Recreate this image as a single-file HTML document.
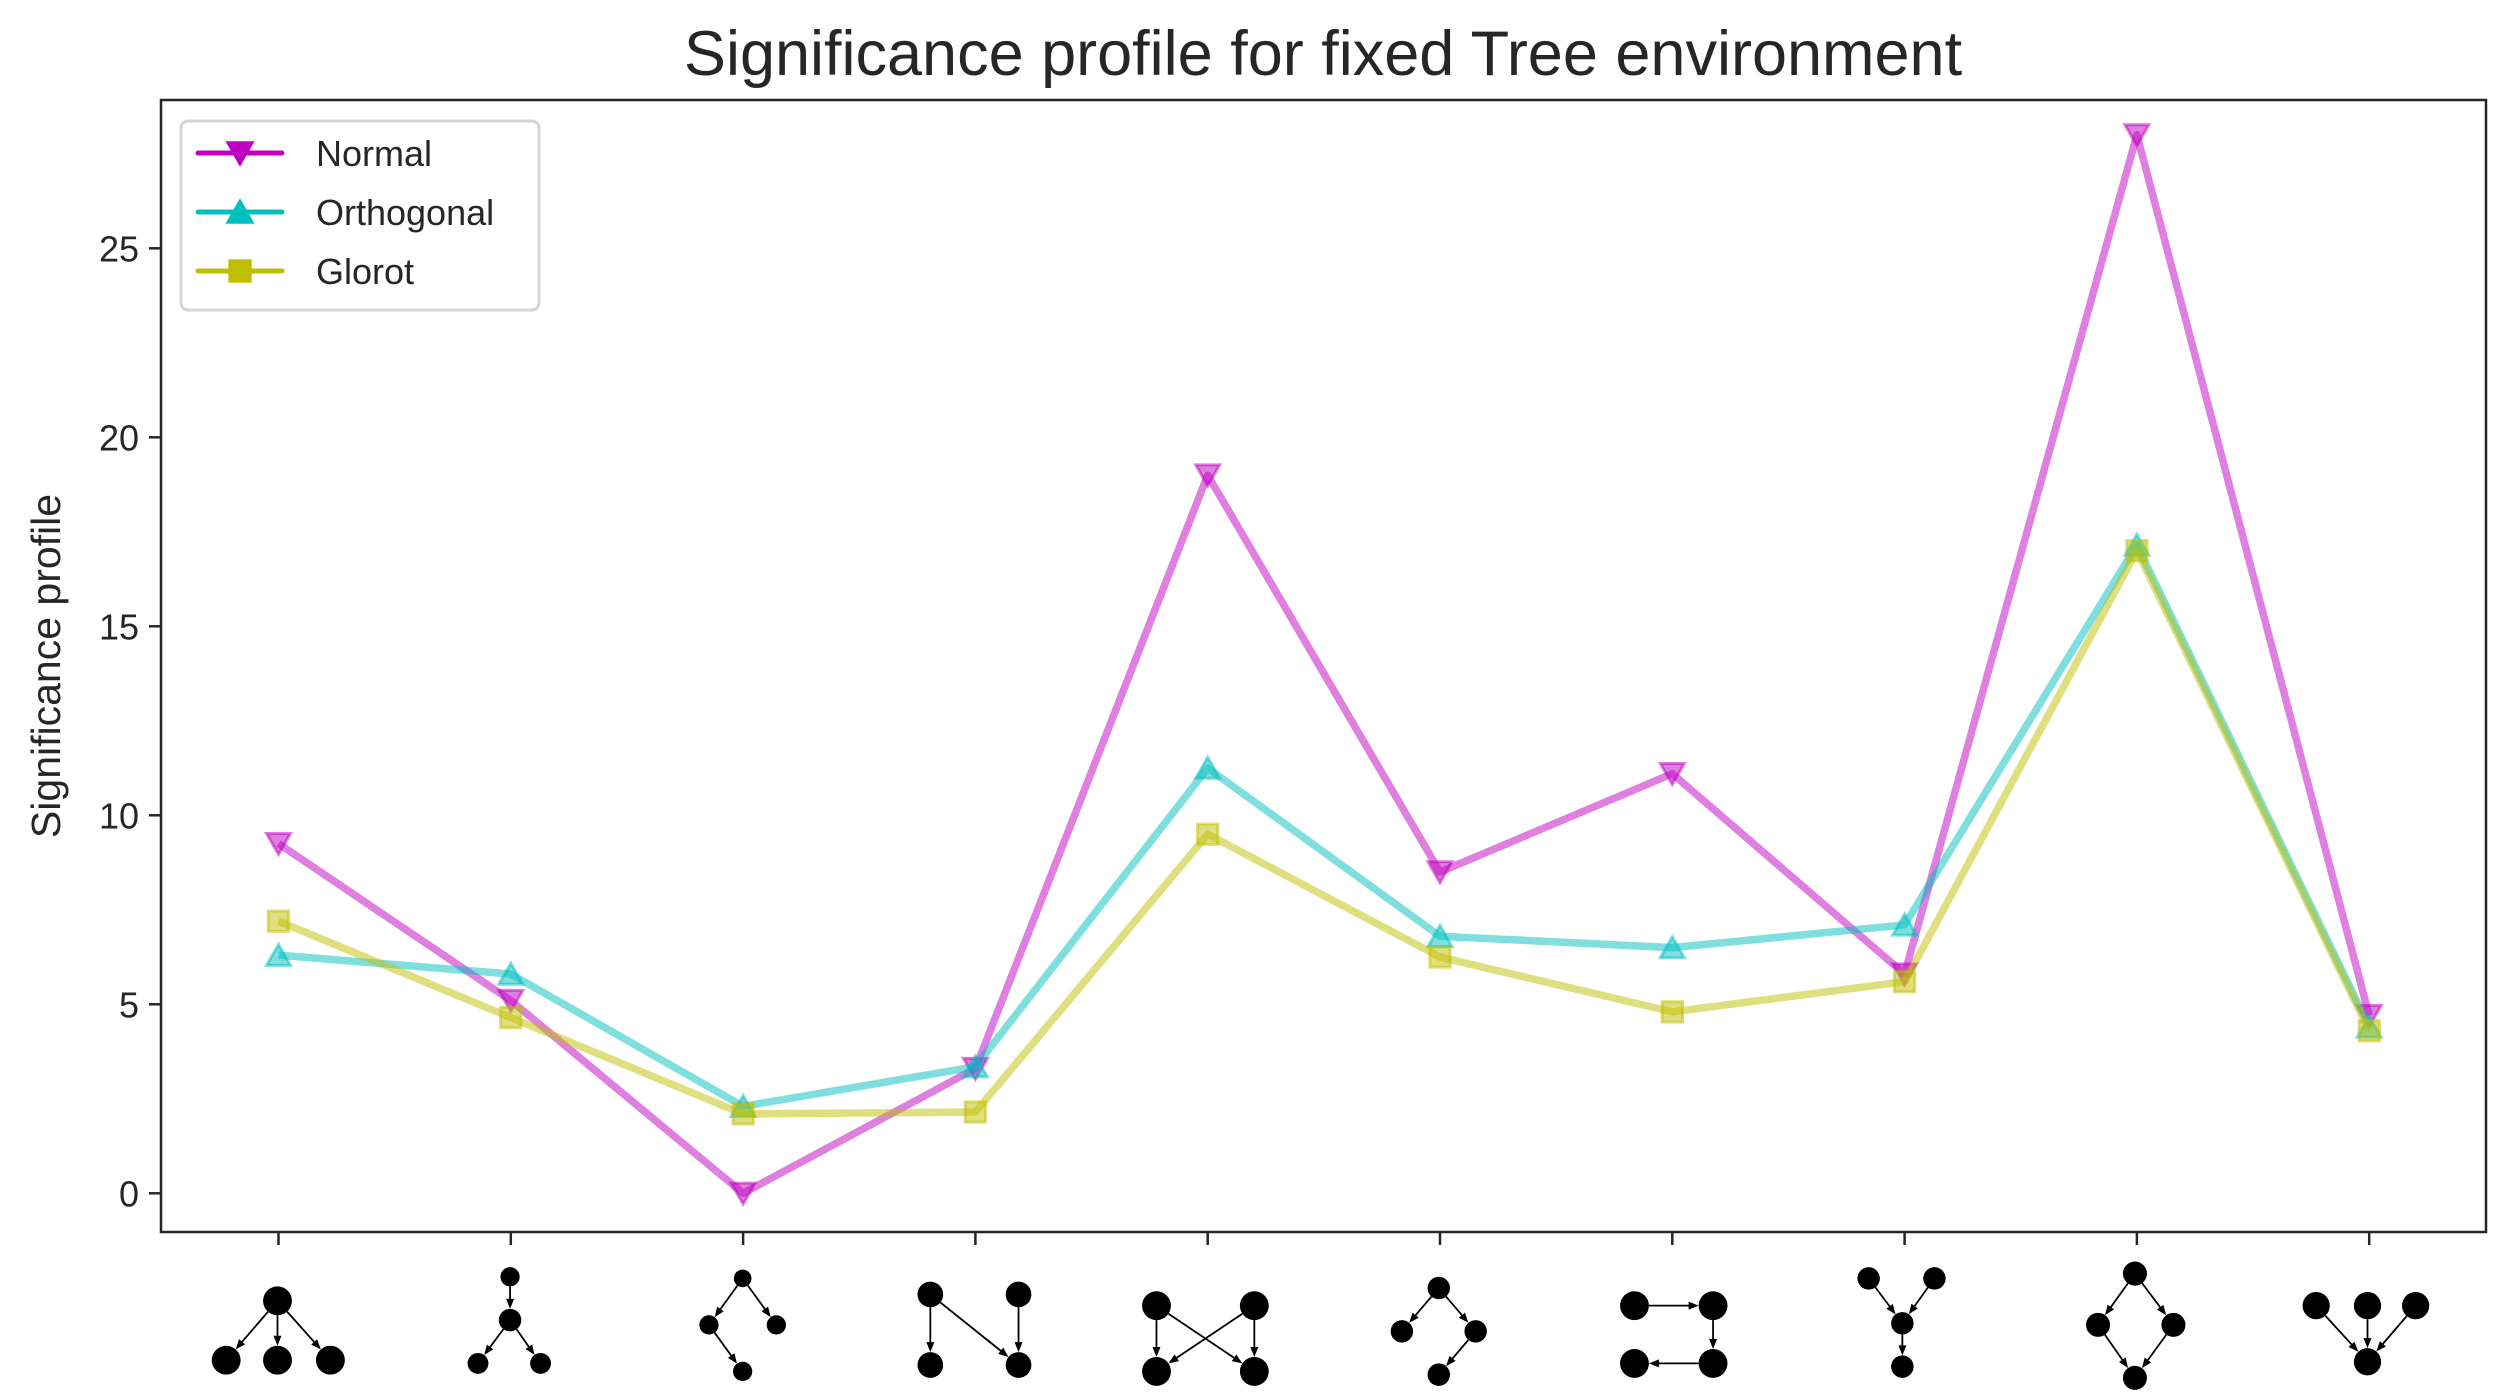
<!DOCTYPE html>
<html><head><meta charset="utf-8"><style>
html,body{margin:0;padding:0;background:#fff}
svg{display:block;font-family:"Liberation Sans",sans-serif}
</style></head><body>
<svg id="chart" width="2515" height="1400" viewBox="0 0 2515 1400">
<text x="1323" y="75" font-size="63" fill="#262626" text-anchor="middle">Significance profile for fixed Tree environment</text>
<text transform="translate(60,666) rotate(-90)" font-size="41" fill="#262626" text-anchor="middle">Significance profile</text>
<g id="plot"></g>
<rect x="161" y="100" width="2325" height="1132" fill="none" stroke="#262626" stroke-width="2.5"/>
</svg>
<script>
const categories = ['m0','m1','m2','m3','m4','m5','m6','m7','m8','m9'];
const normalValues = [9.25, 5.1, 0.0, 3.3, 19.0, 8.5, 11.1, 5.8, 28.0, 4.7];
const orthogonalValues = [6.3, 5.8, 2.3, 3.35, 11.25, 6.8, 6.5, 7.1, 17.15, 4.4];
const glorotValues = [7.2, 4.65, 2.1, 2.15, 9.5, 6.25, 4.8, 5.6, 17.0, 4.3];
const yTicks = [0, 5, 10, 15, 20, 25];
const seriesNames = ['Normal', 'Orthogonal', 'Glorot'];

const NS = 'http://www.w3.org/2000/svg';
const plot = document.getElementById('plot');
const X0 = 278.5, XSTEP = 232.3, Y0 = 1193.3, YPER = 37.8;
const xScale = i => X0 + i * XSTEP;
const yScale = v => Y0 - v * YPER;
function mk(tag, attrs, parent) {
  const e = document.createElementNS(NS, tag);
  for (const k in attrs) e.setAttribute(k, attrs[k]);
  (parent || plot).appendChild(e);
  return e;
}
yTicks.forEach(t => {
  const g = mk('g', {});
  
  
  mk('line', {x1: 149, x2: 161, y1: yScale(t), y2: yScale(t), stroke: '#262626', 'stroke-width': 2.5}, g);
  const tx = mk('text', {x: 139, y: yScale(t) + 13, 'font-size': 36, fill: '#262626', 'text-anchor': 'end'}, g);
  tx.textContent = t;
});
categories.forEach((c, i) => {
  const l = mk('line', {x1: xScale(i), x2: xScale(i), y1: 1232, y2: 1245, stroke: '#262626', 'stroke-width': 2.5});
  
  
});
const colors = ['#bf00bf', '#00bfbf', '#bfbf00'];
const allValues = [normalValues, orthogonalValues, glorotValues];
function marker(kind, cx, cy, s, color, parent, alpha) {
  let e;
  if (kind === 0) e = mk('polygon', {points: `${cx-s},${cy-s*0.85} ${cx+s},${cy-s*0.85} ${cx},${cy+s*0.9}`}, parent);
  else if (kind === 1) e = mk('polygon', {points: `${cx-s},${cy+s*0.85} ${cx+s},${cy+s*0.85} ${cx},${cy-s*0.9}`}, parent);
  else e = mk('rect', {x: cx-s*0.85, y: cy-s*0.85, width: s*1.7, height: s*1.7}, parent);
  e.setAttribute('fill', color);
  e.setAttribute('fill-opacity', alpha);
  e.setAttribute('stroke', color);
  e.setAttribute('stroke-opacity', alpha);
  e.setAttribute('stroke-width', 3);
  return e;
}
allValues.forEach((vals, s) => {
  const g = mk('g', {});
  
  
  const pts = vals.map((v, i) => xScale(i) + ',' + yScale(v)).join(' ');
  const pl = mk('polyline', {points: pts, fill: 'none', stroke: colors[s], 'stroke-width': 7.5, 'stroke-opacity': 0.5, 'stroke-linejoin': 'round'}, g);
  
  
  vals.forEach((v, i) => {
    const m = marker(s, xScale(i), yScale(v), 12, colors[s], g, 0.5);
    
    
  });
});
const lg = mk('g', {});


mk('rect', {x: 181, y: 121, width: 358, height: 189, rx: 7, fill: '#fff', stroke: '#d6d6d6', 'stroke-width': 3}, lg);
seriesNames.forEach((n, s) => {
  const y = 153 + s * 59;
  const eg = mk('g', {}, lg);
  
  
  mk('line', {x1: 198, x2: 282, y1: y, y2: y, stroke: colors[s], 'stroke-width': 5, 'stroke-linecap': 'round'}, eg);
  marker(s, 240, y, 12, colors[s], eg, 1);
  const t = mk('text', {x: 316, y: y + 13, 'font-size': 36, fill: '#262626'}, eg);
  t.textContent = n;
});
const K = 1.604;
const motifs = [
  {n: [[173,811,9],[141,848,9],[173,848,9],[206,848,9]], e: [[0,1],[0,2],[0,3]]},
  {n: [[318,796,6],[318,823,7],[298,850,6.5],[337,850,6.5]], e: [[0,1],[1,2],[1,3]]},
  {n: [[463,797,5.5],[442,826,6],[484,826,6],[463,855,6]], e: [[0,1],[0,2],[1,3]]},
  {n: [[580,807,8],[635,807,8],[580,851,8],[635,851,8]], e: [[0,2],[0,3],[1,3]]},
  {n: [[721,814,9],[782,814,9],[721,855,9],[782,855,9]], e: [[0,3],[1,2],[0,2],[1,3]]},
  {n: [[897,803,7],[874,830,7],[920,830,7],[897,857,7]], e: [[0,1],[0,2],[2,3]]},
  {n: [[1019,814,9],[1068,814,9],[1019,850,9],[1068,850,9]], e: [[0,1],[1,3],[3,2]]},
  {n: [[1165,797,7],[1206,797,7],[1186,825,7],[1186,852,7]], e: [[0,2],[1,2],[2,3]]},
  {n: [[1331,794,7.5],[1308,826,7.5],[1355,826,7.5],[1331,859,7.5]], e: [[0,1],[0,2],[1,3],[2,3]]},
  {n: [[1444,814,8.5],[1476,814,8.5],[1506,814,8.5],[1476,849,8.5]], e: [[0,3],[1,3],[2,3]]}
];
motifs.forEach((m, i) => {
  const g = mk('g', {});
  
  
  const N = m.n.map(p => [p[0]*K, p[1]*K, p[2]*K]);
  m.e.forEach(([a, b]) => {
    const [x1, y1, r1] = N[a], [x2, y2, r2] = N[b];
    const dx = x2-x1, dy = y2-y1, d = Math.hypot(dx, dy), ux = dx/d, uy = dy/d;
    const sx = x1+ux*r1, sy = y1+uy*r1, ex = x2-ux*r2, ey = y2-uy*r2;
    mk('line', {x1: sx, y1: sy, x2: ex-ux*6, y2: ey-uy*6, stroke: '#000', 'stroke-width': 1.8}, g);
    const px = -uy, py = ux;
    mk('polygon', {points: `${ex},${ey} ${ex-ux*10+px*4},${ey-uy*10+py*4} ${ex-ux*10-px*4},${ey-uy*10-py*4}`, fill: '#000'}, g);
  });
  N.forEach(([x, y, r]) => mk('circle', {cx: x, cy: y, r: r, fill: '#000'}, g));
});
</script>
</body></html>
